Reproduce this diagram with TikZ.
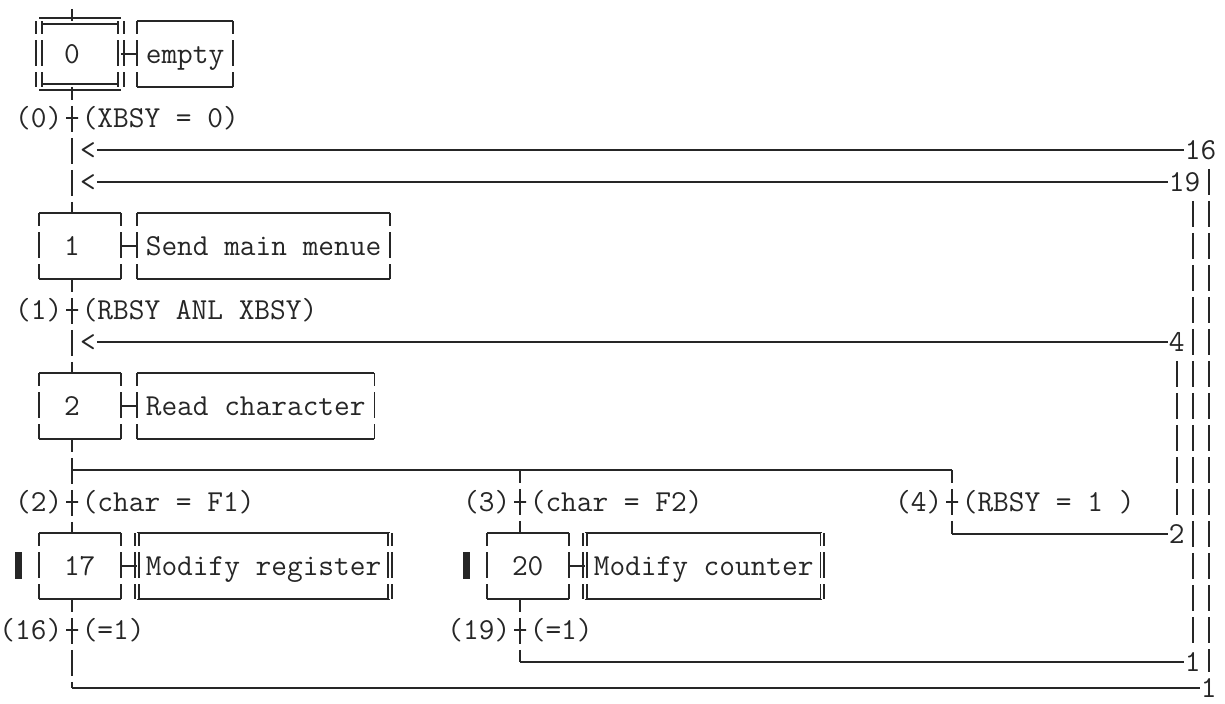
\documentclass[tikz,border=0pt]{standalone}
\usepackage{tikz}
\usetikzlibrary{positioning}
\tikzstyle{Side} = [dash pattern=on 13pt off 3pt,
                    dash phase=6.5pt]
\tikzstyle{Rail} = [dash pattern=on 13pt off 3pt,
                    dash phase=14.5pt,
                    shorten <=8pt,
                    shorten >=8pt]
\tikzstyle{Box} = [rectangle,
                   inner sep=0pt,
                   minimum height=32pt,
                   text height=9.3pt,
                   text depth=0pt]
\tikzstyle{Step} = [Box,
                    minimum width=40pt,
                    text width=16pt,
                    align=left,
                    append after command={(\tikzlastnode.north west) edge (\tikzlastnode.north east)
                                          (\tikzlastnode.south west) edge (\tikzlastnode.south east)
                                          (\tikzlastnode.north west) edge[Side] (\tikzlastnode.south west)
                                          (\tikzlastnode.north east) edge[Side] (\tikzlastnode.south east)}]
\tikzstyle{Init} = [Box,
                    minimum width=40pt,
                    text width=16pt,
                    align=left,
                    append after command={(\tikzlastnode.north west) edge[double, double distance=2pt] (\tikzlastnode.north east)
                                          (\tikzlastnode.south west) edge[double, double distance=2pt] (\tikzlastnode.south east)
                                          (\tikzlastnode.north west) edge[Side, double, double distance=2pt] (\tikzlastnode.south west)
                                          (\tikzlastnode.north east) edge[Side, double, double distance=2pt] (\tikzlastnode.south east)}]
\tikzstyle{Act} = [Box,
                   inner xsep=4pt,
                   append after command={(\tikzlastnode.north west) edge (\tikzlastnode.north east)
                                         (\tikzlastnode.south west) edge (\tikzlastnode.south east)
                                         (\tikzlastnode.north west) edge[Side] (\tikzlastnode.south west)
                                         (\tikzlastnode.north east) edge[Side] (\tikzlastnode.south east)}]
\tikzstyle{ActII} = [Box,
                     inner xsep=4pt,
                     append after command={(\tikzlastnode.north west) edge (\tikzlastnode.north east)
                                           (\tikzlastnode.south west) edge (\tikzlastnode.south east)
                                           (\tikzlastnode.north west) edge[Side, double, double distance=1pt] (\tikzlastnode.south west)
                                           (\tikzlastnode.north east) edge[Side, double, double distance=1pt] (\tikzlastnode.south east)}]
\tikzstyle{Trans} = [rectangle,
                     draw,
                     inner sep=0pt,
                     minimum width=6pt,
                     minimum height=0pt]
\tikzstyle{Cond} = [inner sep=0pt,
                    text height=9.3pt,
                    text depth=0pt]
\tikzstyle{Mark} = [rectangle,
                    fill,
                    inner sep=0pt,
                    minimum width=3.5pt,
                    minimum height=13.5pt]
\begin{document}
\begin{tikzpicture}[x=0.5pt, y=-0.5pt, line width=0.9pt, color=black!85,
                    font=\fontsize{15.24}{16}\selectfont\ttfamily]
        \useasboundingbox (0,0) rectangle (1225,704);

        \node (S0) [Init] at (80,54) {0};
        \node (A0) [Act, right=8pt of S0] {empty};
        \node (S1) [Step] at (80,246) {1};
        \node (A1) [Act, right=8pt of S1] {Send main menue};
        \node (S2) [Step] at (80,406) {2};
        \node (A2) [Act, right=8pt of S2] {Read character};
        \node (S17) [Step] at (80,566) {17};
        \node (A17) [ActII, right=8pt of S17] {Modify register};
        \node (M17) [Mark, left=8pt of S17] {};
        \node (S20) [Step] at (528,566) {20};
        \node (A20) [ActII, right=8pt of S20] {Modify counter};
        \node (M20) [Mark, left=8pt of S20] {};

        \node (T0) [Trans] at (72,118) {};
        \node (T0_N) [Cond, left=1pt of T0] {(0)};
        \node (T0_C) [Cond, right=1pt of T0] {(XBSY = 0)};
        \node (T1) [Trans] at (72,310) {};
        \node (T1_N) [Cond, left=1pt of T1] {(1)};
        \node (T1_C) [Cond, right=1pt of T1] {(RBSY ANL XBSY)};
        \node (T2) [Trans] at (72,502) {};
        \node (T2_N) [Cond, left=1pt of T2] {(2)};
        \node (T2_C) [Cond, right=1pt of T2] {(char = F1)};
        \node (T3) [Trans] at (520,502) {};
        \node (T3_N) [Cond, left=1pt of T3] {(3)};
        \node (T3_C) [Cond, right=1pt of T3] {(char = F2)};
        \node (T4) [Trans] at (952,502) {};
        \node (T4_N) [Cond, left=1pt of T4] {(4)};
        \node (T4_C) [Cond, right=1pt of T4] {(RBSY = 1 )};
        \node (T16) [Trans] at (72,630) {};
        \node (T16_N) [Cond, left=1pt of T16] {(16)};
        \node (T16_C) [Cond, right=1pt of T16] {(=1)};
        \node (T19) [Trans] at (520,630) {};
        \node (T19_N) [Cond, left=1pt of T19] {(19)};
        \node (T19_C) [Cond, right=1pt of T19] {(=1)};

        \node (J16_In) [Cond] at (88,150) {<};
        \node (J16) [Cond, anchor=west] at (1184,150) {16};
        \node (J19_In) [Cond] at (88,182) {<};
        \node (J19) [Cond, anchor=west] at (1168,182) {19};
        \node (J4_In) [Cond] at (88,342) {<};
        \node (J4) [Cond, anchor=west] at (1168,342) {4};
        \node (J2) [Cond, anchor=west] at (1168,534) {2};
        \node (E19) [Cond, anchor=west] at (1184,662) {1};
        \node (E16) [Cond, anchor=west] at (1200,688) {1};

        \coordinate (In) at (72,9);
        \coordinate (Div) at (72,470);

        \draw (In) -- (In |- S0.north);
        \draw (S0) -- (A0);
        \draw (S1) -- (A1);
        \draw (S2) -- (A2);
        \draw (S17) -- (A17);
        \draw (S20) -- (A20);

        \draw [Side] (S0.south -| T0) -- (S1.north -| T0);
        \draw [Side] (S1.south -| T1) -- (S2.north -| T1);
        \draw [Side] (S2.south -| T2) -- (S17.north -| T2);
        \draw [Side] (Div -| T3) -- (S20.north -| T3);
        \draw [Side] (Div -| T4) -- (T4 |- J2);
        \draw [Side] (S17.south -| T16) -- (T16 |- E16);
        \draw [Side] (S20.south -| T19) -- (T19 |- E19);

        \draw (Div) -- (Div -| T4);
        \draw (T4 |- J2) -- (J2);
        \draw (T16 |- E16) -- (E16);
        \draw (T19 |- E19) -- (E19);
        \draw (J16_In) -- (J16);
        \draw (J19_In) -- (J19);
        \draw (J4_In) -- (J4);

        \draw [Rail] (E16 |- J16) -- (E16.center);
        \draw [Rail] (E19 |- J19) -- (E19.center);
        \draw [Rail] (J4.center) -- (J2.center);
\end{tikzpicture}
\end{document}
